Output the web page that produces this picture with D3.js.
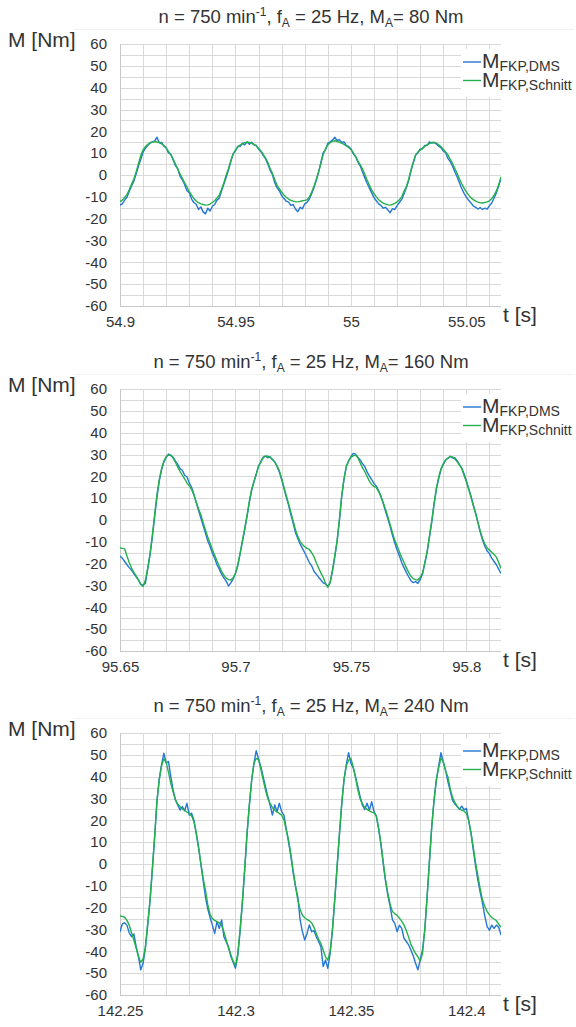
<!DOCTYPE html>
<html>
<head>
<meta charset="utf-8">
<script src="https://cdn.jsdelivr.net/npm/d3@7"></script>
<style>
  body { margin: 0; background: #ffffff; }
  svg { display: block; }
  text { font-family: "Liberation Sans", Arial, sans-serif; fill: #333333; }
</style>
</head>
<body>
<svg id="chart" width="576" height="1027"></svg>
<script>
// ---- data -------------------------------------------------------------
// load amplitude M_A per test [Nm]
const loads = [80, 160, 240];
// first sample time of each record [s]; records are sampled at 1 kHz
const tStart = [54.9, 95.65, 142.25];
const sampleStep = 0.001;
const tSpan = 0.165;

const xTickValues = [
  [54.9, 54.95, 55, 55.05],
  [95.65, 95.7, 95.75, 95.8],
  [142.25, 142.3, 142.35, 142.4]
];
const xTickLabels = [
  ["54.9", "54.95", "55", "55.05"],
  ["95.65", "95.7", "95.75", "95.8"],
  ["142.25", "142.3", "142.35", "142.4"]
];
const yTickValues = [-60, -50, -40, -30, -20, -10, 0, 10, 20, 30, 40, 50, 60];
const yTickLabels = ["-60", "-50", "-40", "-30", "-20", "-10", "0", "10", "20", "30", "40", "50", "60"];
const seriesSubscripts = ["FKP,DMS", "FKP,Schnitt"];

// M_FKP,DMS (strain gauge) and M_FKP,Schnitt (section method) torque [Nm]
const dms80 = [
  -13.8,-13.2,-11.5,-10.2,-7.5,-5.0,-2.8,0.5,4.0,7.2,
  10.5,12.2,13.5,14.8,15.2,15.5,17.3,14.8,14.9,13.2,
  12.5,10.1,9.5,7.0,4.2,2.9,-0.5,-2.2,-4.5,-7.2,
  -8.1,-11.0,-12.6,-13.4,-15.8,-14.6,-16.9,-17.8,-15.2,-16.5,
  -14.3,-13.5,-11.5,-10.6,-7.2,-4.1,-1.0,2.4,6.2,9.8,
  11.0,13.2,13.0,14.6,13.8,15.2,14.1,15.0,13.8,13.6,
  11.9,10.8,9.0,7.5,5.1,2.2,0.2,-3.5,-5.8,-7.2,
  -9.5,-10.8,-12.0,-12.4,-13.9,-13.5,-15.6,-16.8,-14.8,-15.5,
  -13.2,-12.5,-11.0,-8.6,-5.8,-2.4,1.2,5.8,10.2,11.6,
  14.5,15.2,16.0,17.3,15.8,16.2,14.9,15.2,13.6,13.0,
  12.0,9.8,8.6,6.0,4.2,1.5,-1.2,-3.8,-6.0,-8.2,
  -10.4,-11.8,-13.2,-13.9,-15.2,-14.8,-16.0,-17.3,-15.4,-15.8,
  -14.0,-12.6,-11.2,-8.6,-5.8,-2.6,1.8,5.5,9.0,10.2,
  11.8,12.0,13.5,13.6,15.2,14.6,14.8,14.2,13.2,12.5,
  11.0,10.2,7.6,6.2,4.0,1.5,-0.8,-3.5,-6.2,-8.4,
  -10.1,-11.6,-12.8,-14.2,-14.8,-15.6,-14.9,-15.8,-15.2,-15.6,
  -14.0,-12.8,-10.5,-8.2,-5.0,-1.5
];
const schnitt80 = [
  -12.2,-11.5,-10.3,-9.0,-6.8,-4.3,-1.8,1.5,5.2,9.0,
  11.5,13.0,14.0,14.6,15.1,15.3,15.1,14.9,14.3,13.5,
  12.3,10.8,9.2,7.3,5.0,2.7,0.5,-1.5,-3.6,-5.5,
  -7.6,-9.2,-10.8,-11.9,-12.7,-13.2,-13.5,-13.8,-13.7,-13.3,
  -12.6,-11.8,-10.5,-9.2,-6.5,-3.5,0.0,3.0,6.5,9.5,
  11.5,12.8,13.7,14.3,14.8,15.0,14.9,14.6,14.1,13.3,
  12.3,11.0,9.5,7.8,5.8,3.0,0.8,-2.2,-4.6,-6.3,
  -7.9,-9.2,-10.2,-11.0,-11.6,-12.0,-12.2,-12.3,-12.1,-11.8,
  -11.6,-11.4,-10.0,-7.8,-5.2,-2.0,1.5,5.2,9.5,12.0,
  13.8,14.8,15.4,15.7,15.4,15.0,14.6,14.0,13.3,12.6,
  11.7,10.3,8.5,6.5,4.8,2.7,0.3,-2.3,-4.6,-6.8,
  -8.6,-10.0,-11.3,-12.2,-12.9,-13.3,-13.7,-13.8,-13.5,-13.0,
  -12.3,-11.3,-10.0,-7.5,-5.4,-2.0,2.3,6.0,9.2,10.5,
  11.4,12.3,13.1,13.8,14.4,14.9,15.0,14.6,13.8,13.0,
  11.8,10.6,9.2,7.2,5.3,3.0,0.8,-1.8,-4.0,-6.0,
  -7.8,-9.2,-10.5,-11.3,-12.0,-12.4,-12.7,-12.8,-12.6,-12.3,
  -11.8,-10.8,-9.2,-7.3,-4.5,-0.8
];
const dms160 = [
  -16.5,-17.5,-19.0,-20.5,-21.8,-23.0,-24.5,-26.0,-27.5,-29.5,
  -29.8,-29.0,-22.5,-16.0,-8.0,1.5,10.5,17.8,23.0,26.5,
  28.8,30.2,29.5,28.8,27.0,25.5,23.5,22.8,20.5,19.8,
  17.0,15.0,11.8,8.0,4.5,1.0,-2.5,-6.0,-9.5,-12.0,
  -15.2,-17.5,-20.5,-22.5,-24.8,-26.5,-28.0,-30.2,-28.8,-27.0,
  -24.5,-21.0,-15.5,-10.0,-4.5,1.5,8.0,13.5,17.5,21.0,
  24.8,26.5,28.8,29.2,28.5,29.0,27.5,26.8,24.5,22.0,
  18.5,14.5,10.5,6.8,2.5,-1.5,-5.8,-8.5,-11.0,-13.0,
  -15.0,-17.2,-19.5,-21.0,-23.5,-24.8,-26.2,-27.5,-28.8,-29.2,
  -30.5,-28.8,-23.5,-17.0,-10.0,-0.5,10.5,18.5,24.5,27.0,
  29.0,30.5,30.2,28.8,27.5,25.8,24.5,22.0,20.2,18.5,
  16.8,15.5,13.5,10.8,7.5,4.0,0.5,-3.0,-7.0,-10.5,
  -13.7,-16.5,-19.5,-21.8,-24.0,-26.0,-27.8,-28.7,-28.2,-29.0,
  -27.2,-24.8,-20.0,-14.8,-8.0,-1.0,7.0,14.0,19.0,23.0,
  25.5,27.5,28.2,29.2,28.4,28.5,27.2,25.5,23.8,21.2,
  18.0,14.5,11.0,7.0,3.2,-1.2,-5.5,-9.2,-12.0,-14.2,
  -15.4,-17.5,-19.0,-20.5,-22.5,-24.5
];
const schnitt160 = [
  -12.7,-13.0,-13.2,-16.5,-19.5,-22.0,-24.0,-25.6,-27.5,-29.5,
  -30.5,-27.5,-22.0,-15.5,-7.0,2.5,11.5,18.5,23.5,27.0,
  29.0,29.8,29.8,28.3,26.5,24.2,22.3,20.5,18.8,17.0,
  15.6,14.0,11.5,8.2,5.0,2.5,-1.2,-4.6,-7.8,-10.5,
  -13.5,-16.2,-18.8,-21.2,-23.5,-25.3,-26.6,-27.3,-27.5,-26.5,
  -24.4,-20.5,-15.3,-9.5,-4.0,2.0,8.5,14.0,17.5,21.0,
  24.5,26.8,28.5,29.3,29.2,28.7,27.8,26.5,24.8,22.6,
  19.0,15.0,11.2,7.5,3.5,-0.5,-4.6,-7.5,-9.9,-11.2,
  -12.2,-13.0,-13.5,-15.0,-16.8,-19.5,-22.0,-24.2,-26.2,-29.0,
  -30.8,-28.5,-23.0,-16.5,-9.5,0.0,11.0,19.0,24.5,27.0,
  28.8,29.4,29.8,28.5,26.2,24.0,22.2,20.0,17.8,16.3,
  15.4,14.8,13.0,10.8,8.0,4.8,1.5,-2.2,-5.8,-9.2,
  -11.8,-14.6,-17.2,-19.5,-21.8,-24.0,-25.8,-26.8,-27.3,-27.5,
  -26.2,-24.4,-19.5,-14.5,-7.5,-0.5,7.5,14.5,19.5,23.5,
  25.8,27.5,28.4,29.0,28.9,28.0,26.7,25.2,23.5,20.5,
  17.5,14.0,10.5,6.5,3.0,-1.0,-5.0,-8.5,-11.0,-12.8,
  -13.8,-14.8,-15.8,-17.0,-19.5,-22.2
];
const dms240 = [
  -31.0,-27.5,-26.9,-28.0,-31.5,-33.3,-32.0,-37.9,-42.4,-48.5,
  -45.5,-38.5,-28.0,-17.0,-3.0,12.0,28.5,39.0,45.5,50.7,
  46.4,46.9,40.0,33.9,29.3,27.0,24.7,26.3,24.4,27.8,
  22.4,23.2,20.2,14.0,8.0,0.0,-7.5,-15.0,-20.5,-24.5,
  -28.0,-31.8,-26.4,-29.5,-25.6,-33.3,-35.6,-37.9,-42.4,-45.0,
  -47.8,-42.0,-31.0,-18.0,-3.0,13.5,26.5,38.0,46.0,51.9,
  48.0,44.6,40.0,35.4,31.0,27.0,22.4,27.0,24.0,27.8,
  24.0,22.4,16.0,10.0,3.5,-4.0,-10.4,-15.0,-25.6,-31.0,
  -34.8,-31.8,-27.9,-31.0,-30.5,-33.3,-35.5,-37.9,-47.0,-44.0,
  -47.8,-41.0,-30.5,-16.5,-2.0,13.0,27.0,38.5,45.5,51.0,
  46.1,44.0,40.0,35.4,30.8,27.0,25.0,27.8,24.7,28.5,
  24.0,22.0,16.0,9.0,0.0,-8.0,-14.5,-19.5,-25.6,-27.2,
  -31.0,-28.0,-29.5,-34.0,-35.5,-37.0,-39.4,-42.0,-45.5,-48.5,
  -44.0,-39.4,-30.0,-15.0,1.0,17.0,29.0,38.5,45.0,51.0,
  46.5,43.0,37.7,33.5,29.3,27.5,26.3,25.0,26.5,24.8,
  25.5,20.0,14.0,6.5,-1.0,-7.5,-13.0,-18.0,-24.0,-28.7,
  -30.3,-28.0,-29.5,-28.0,-29.0,-32.6
];
const schnitt240 = [
  -23.7,-24.0,-24.4,-25.8,-28.0,-31.5,-34.8,-38.5,-42.4,-45.0,
  -43.5,-38.0,-27.2,-16.5,-2.0,12.5,29.0,38.5,45.0,48.2,
  46.5,42.0,37.0,33.0,29.5,27.5,26.2,25.2,24.5,23.8,
  23.2,22.0,19.5,14.5,7.5,0.5,-6.5,-12.0,-18.5,-23.0,
  -25.0,-25.8,-26.4,-27.0,-28.2,-31.0,-34.8,-38.5,-41.5,-44.5,
  -46.5,-41.0,-30.0,-17.0,-2.0,14.0,27.0,38.5,46.0,48.4,
  47.8,43.5,38.5,33.9,30.0,27.8,25.8,24.7,23.8,23.2,
  22.4,20.2,15.5,11.0,4.5,-3.0,-10.0,-16.5,-20.8,-23.5,
  -24.6,-25.4,-26.0,-27.0,-29.0,-31.8,-34.5,-36.3,-39.5,-42.5,
  -44.0,-40.0,-30.0,-16.0,-1.0,13.5,27.5,38.5,45.0,47.5,
  48.4,44.5,39.5,34.0,29.8,27.5,25.8,25.0,24.3,23.8,
  23.4,22.0,16.5,9.5,1.0,-7.3,-13.5,-18.5,-21.8,-22.8,
  -23.4,-24.8,-26.2,-28.0,-30.5,-33.5,-36.8,-39.0,-41.0,-42.5,
  -44.5,-41.0,-30.0,-15.0,1.0,17.0,29.3,38.5,44.0,48.4,
  47.0,42.5,40.0,34.5,30.5,28.2,26.5,25.2,24.7,24.2,
  23.2,20.0,14.5,7.5,0.5,-5.5,-11.5,-16.5,-19.5,-21.8,
  -23.3,-24.5,-25.2,-26.0,-27.5,-29.0
];

const dmsSeries = [dms80, dms160, dms240];
const schnittSeries = [schnitt80, schnitt160, schnitt240];

// ---- layout -----------------------------------------------------------
const plotLeft = 120;
const plotWidth = 381;
const plotHeight = 262;
const panelTops = [44, 389, 733];
const colorDMS = "#2476d4";
const colorSchnitt = "#24b04c";
const gridColor = "#d9d9d9";

const svg = d3.select("#chart");

loads.forEach((load, i) => {
  const top = panelTops[i];
  const t0 = tStart[i];
  const g = svg.append("g").attr("transform", `translate(0,${top})`);

  const x = d3.scaleLinear().domain([t0, t0 + tSpan]).range([plotLeft, plotLeft + plotWidth]);
  const y = d3.scaleLinear().domain([-60, 60]).range([plotHeight, 0]);

  // faint chart-area frame line above the plot
  g.append("line")
    .attr("x1", 74).attr("x2", 574)
    .attr("y1", -14.5).attr("y2", -14.5)
    .attr("stroke", "#f2f2f2").attr("stroke-width", 1);

  // title
  const title = g.append("text")
    .attr("x", 311).attr("y", -21)
    .attr("text-anchor", "middle")
    .style("font-size", "18.5px");
  title.append("tspan").text("n = 750 min");
  title.append("tspan").attr("dy", -7).style("font-size", "12px").text("-1");
  title.append("tspan").attr("dy", 7).text(", f");
  title.append("tspan").attr("dy", 4).style("font-size", "12px").text("A");
  title.append("tspan").attr("dy", -4).text(" = 25 Hz, M");
  title.append("tspan").attr("dy", 4).style("font-size", "12px").text("A");
  title.append("tspan").attr("dy", -4).text(`= ${load} Nm`);

  // horizontal grid every 5 Nm
  const yGrid = d3.range(-60, 60.1, 5);
  g.append("g").selectAll("line").data(yGrid).join("line")
    .attr("x1", plotLeft).attr("x2", plotLeft + plotWidth)
    .attr("y1", d => Math.round(y(d)) + 0.5).attr("y2", d => Math.round(y(d)) + 0.5)
    .attr("stroke", gridColor).attr("stroke-width", 1);

  // vertical grid every 10 ms
  const xGrid = d3.range(1, 17).map(k => t0 + k * 0.01);
  g.append("g").selectAll("line").data(xGrid).join("line")
    .attr("x1", d => Math.round(x(d)) + 0.5).attr("x2", d => Math.round(x(d)) + 0.5)
    .attr("y1", 0).attr("y2", plotHeight)
    .attr("stroke", gridColor).attr("stroke-width", 1);

  // left and bottom axis lines
  g.append("line")
    .attr("x1", plotLeft + 0.5).attr("x2", plotLeft + 0.5)
    .attr("y1", 0).attr("y2", plotHeight + 0.5)
    .attr("stroke", "#c8c8c8").attr("stroke-width", 1);
  g.append("line")
    .attr("x1", plotLeft).attr("x2", plotLeft + plotWidth)
    .attr("y1", Math.round(y(-60)) + 0.5).attr("y2", Math.round(y(-60)) + 0.5)
    .attr("stroke", "#c8c8c8").attr("stroke-width", 1);

  // y axis labels
  const yAxis = d3.axisLeft(y)
    .tickValues(yTickValues)
    .tickFormat((d, j) => yTickLabels[j])
    .tickSize(0).tickPadding(13);
  const ya = g.append("g").attr("transform", `translate(${plotLeft},0)`).call(yAxis);
  ya.select(".domain").remove();
  ya.selectAll("text").style("font-size", "15px").attr("fill", "#333333")
    .style("font-family", "'Liberation Sans', Arial, sans-serif");

  // x axis labels
  const xAxis = d3.axisBottom(x)
    .tickValues(xTickValues[i])
    .tickFormat((d, j) => xTickLabels[i][j])
    .tickSize(0).tickPadding(10);
  const xa = g.append("g").attr("transform", `translate(0,${plotHeight})`).call(xAxis);
  xa.select(".domain").remove();
  xa.selectAll("text").style("font-size", "15px").attr("fill", "#333333")
    .style("font-family", "'Liberation Sans', Arial, sans-serif");

  // axis titles
  g.append("text").attr("x", 8).attr("y", 3).style("font-size", "21px").text("M [Nm]");
  g.append("text").attr("x", 503).attr("y", plotHeight + 16).style("font-size", "21px").text("t [s]");

  // clip for the curves
  const clipId = `clip${i}`;
  g.append("clipPath").attr("id", clipId)
    .append("rect").attr("x", plotLeft).attr("y", 0)
    .attr("width", plotWidth).attr("height", plotHeight);

  const line = d3.line()
    .x((d, k) => x(t0 + k * sampleStep))
    .y(d => y(d));

  const curves = g.append("g").attr("clip-path", `url(#${clipId})`);
  curves.append("path").datum(dmsSeries[i])
    .attr("fill", "none").attr("stroke", colorDMS).attr("stroke-width", 1.4)
    .attr("stroke-linejoin", "round").attr("d", line);
  curves.append("path").datum(schnittSeries[i])
    .attr("fill", "none").attr("stroke", colorSchnitt).attr("stroke-width", 1.4)
    .attr("stroke-linejoin", "round").attr("d", line);

  // legend
  g.append("rect").attr("x", 461).attr("y", 5).attr("width", 115).attr("height", 48)
    .attr("fill", "#ffffff");
  const legendColors = [colorDMS, colorSchnitt];
  seriesSubscripts.forEach((sub, k) => {
    const ly = 18 + k * 18.5;
    g.append("line").attr("x1", 463).attr("x2", 481)
      .attr("y1", ly).attr("y2", ly)
      .attr("stroke", legendColors[k]).attr("stroke-width", 1.4);
    const lt = g.append("text").attr("x", 482).attr("y", ly + 6).style("font-size", "21px");
    lt.append("tspan").text("M");
    lt.append("tspan").attr("dy", 3).style("font-size", "14px").text(sub);
  });
});
</script>
</body>
</html>
